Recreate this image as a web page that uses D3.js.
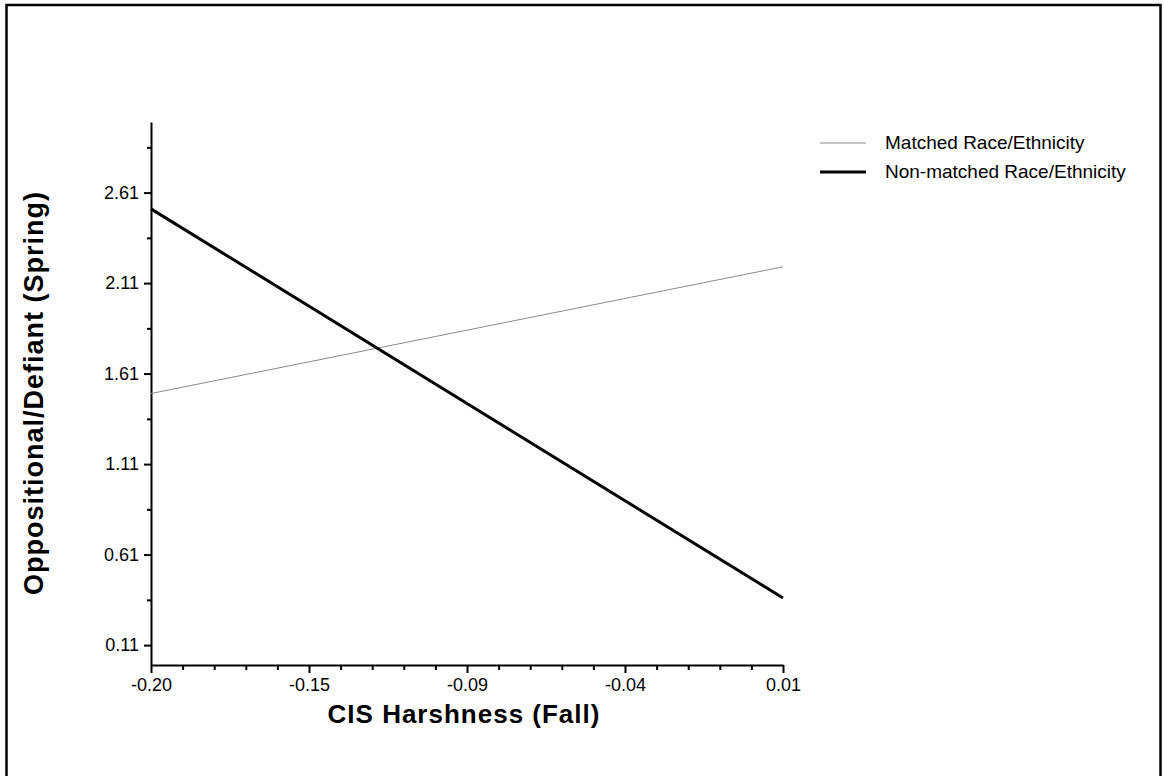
<!DOCTYPE html>
<html>
<head>
<meta charset="utf-8">
<script src="https://cdn.jsdelivr.net/npm/d3@7"></script>
<style>
  body { margin: 0; background: #fff; }
  svg text { font-family: "Liberation Sans", Arial, sans-serif; fill: #000; }
</style>
</head>
<body>
<div id="card"></div>
<script>
// chart values
const xExtent = [-0.20, 0.01];
const yExtent = [0, 3];
const xTickValues = [-0.20, -0.1475, -0.095, -0.0425, 0.01];
const xTickLabels = ["-0.20", "-0.15", "-0.09", "-0.04", "0.01"];
const yTickValues = [0.11, 0.61, 1.11, 1.61, 2.11, 2.61];
const yTickLabels = ["0.11", "0.61", "1.11", "1.61", "2.11", "2.61"];
const seriesNames = ["Matched Race/Ethnicity", "Non-matched Race/Ethnicity"];
const matchedValues = [[-0.20, 1.50], [0.01, 2.20]];
const nonMatchedValues = [[-0.20, 2.52], [0.01, 0.37]];

const w = 1164;
const h = 776;

//canvas
const svg = d3.select("#card")
              .append("svg")
                .attr("width", w)
                .attr("height", h)

//outer frame (bottom edge runs off the picture)
svg.append("rect")
   .attr("x", 6.5)
   .attr("y", 5)
   .attr("width", 1154)
   .attr("height", 820)
   .attr("fill", "none")
   .attr("stroke", "#000")
   .attr("stroke-width", 2.5)

const x = d3.scaleLinear().domain(xExtent).range([151, 783]);
const y = d3.scaleLinear().domain(yExtent).range([665, 122]);

//minor ticks: 5 steps between x majors, 2 steps between y majors
let xMinor = [];
for (let i = 0; i < xTickValues.length - 1; i++) {
  const step = (xTickValues[i + 1] - xTickValues[i]) / 5;
  for (let k = 1; k < 5; k++) xMinor.push(xTickValues[i] + k * step);
}
let yMinor = yTickValues.map(v => v + 0.25);

const xAxis = d3.axisBottom(x)
                .tickValues(xTickValues)
                .tickFormat((d, i) => xTickLabels[i])
                .tickSize(8)
                .tickSizeOuter(0)
                .tickPadding(5);

const yAxis = d3.axisLeft(y)
                .tickValues(yTickValues)
                .tickFormat((d, i) => yTickLabels[i])
                .tickSize(7)
                .tickSizeOuter(0)
                .tickPadding(5);

const gx = svg.append("g")
              .attr("transform", "translate(0,665)")
              .call(xAxis)
gx.append("g")
  .call(d3.axisBottom(x).tickValues(xMinor).tickFormat("").tickSize(5).tickSizeOuter(0))
  .select(".domain").remove()

const gy = svg.append("g")
              .attr("transform", "translate(151,0)")
              .call(yAxis)
gy.append("g")
  .call(d3.axisLeft(y).tickValues(yMinor).tickFormat("").tickSize(4).tickSizeOuter(0))
  .select(".domain").remove()

//style axes
svg.selectAll(".domain, .tick line")
   .attr("stroke", "#000")
   .attr("stroke-width", 2)
svg.selectAll(".tick text")
   .style("font-size", "18px")
   .attr("fill", "#000")

//axis titles
svg.append("text")
   .attr("x", 464)
   .attr("y", 723)
   .attr("text-anchor", "middle")
   .style("font-size", "26px")
   .style("font-weight", "bold")
   .style("letter-spacing", "1px")
   .text("CIS Harshness (Fall)")

svg.append("text")
   .attr("transform", "translate(43,393) rotate(-90)")
   .attr("text-anchor", "middle")
   .style("font-size", "27px")
   .style("font-weight", "bold")
   .style("letter-spacing", "1px")
   .text("Oppositional/Defiant (Spring)")

//lines
const line = d3.line()
               .x(d => x(d[0]))
               .y(d => y(d[1]))

const series = [
  {name: seriesNames[0], values: matchedValues, color: "#8a8a8a", width: 1},
  {name: seriesNames[1], values: nonMatchedValues, color: "#000", width: 3}
];

svg.selectAll(".trendline")
   .data(series)
   .enter()
   .append("path")
     .classed("trendline", true)
     .attr("d", d => line(d.values))
     .attr("fill", "none")
     .attr("stroke", d => d.color)
     .attr("stroke-width", d => d.width)

//legend
const legend = svg.selectAll(".legend")
                  .data(series)
                  .enter()
                  .append("g")
                    .classed("legend", true)
                    .attr("transform", (d, i) => "translate(820," + (143 + i * 29) + ")")
legend.append("line")
      .attr("x1", 0)
      .attr("x2", 46)
      .attr("stroke", d => d.color)
      .attr("stroke-width", d => d.width)
legend.append("text")
      .attr("x", 65)
      .attr("y", 6)
      .style("font-size", "19px")
      .text(d => d.name)
</script>
</body>
</html>
